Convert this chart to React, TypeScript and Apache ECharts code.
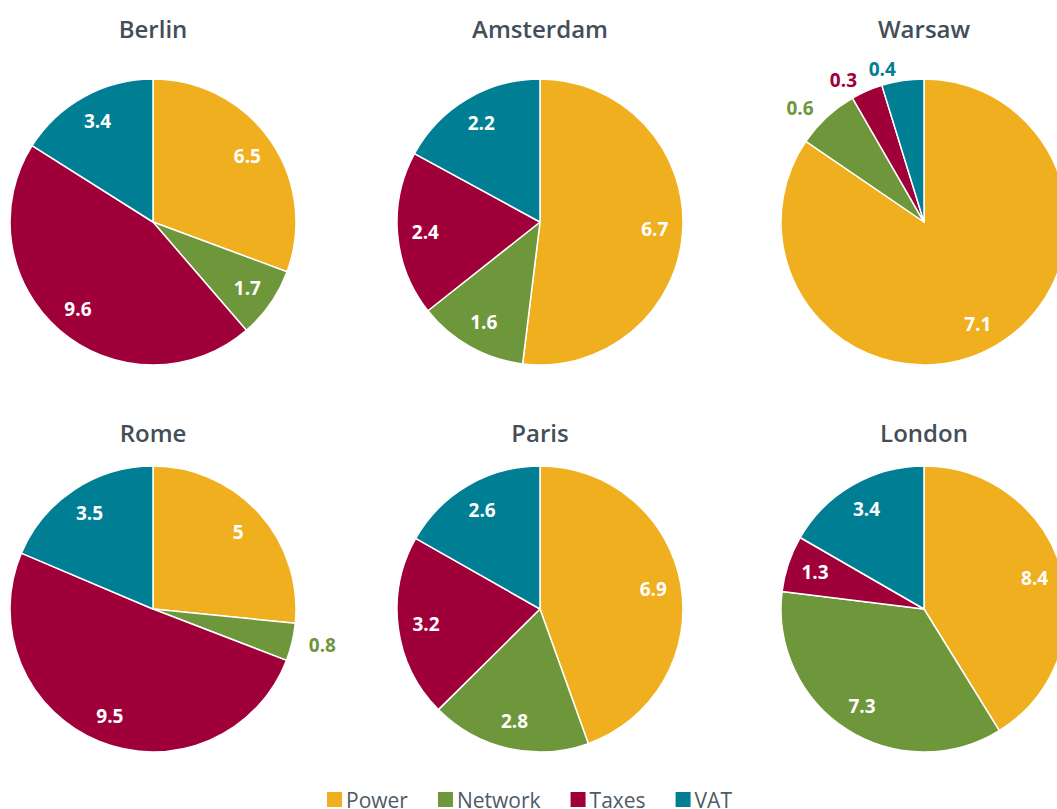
import React, { useEffect, useRef } from "react";
import * as echarts from "echarts";

const cities = ["Berlin", "Amsterdam", "Warsaw", "Rome", "Paris", "London"];
const categories = ["Power", "Network", "Taxes", "VAT"];
const power = [6.5, 6.7, 7.1, 5, 6.9, 8.4];
const network = [1.7, 1.6, 0.6, 0.8, 2.8, 7.3];
const taxes = [9.6, 2.4, 0.3, 9.5, 3.2, 1.3];
const vat = [3.4, 2.2, 0.4, 3.5, 2.6, 3.4];
// slices whose value label sits outside the pie
const outsideLabels: Record<string, string[]> = {
  Warsaw: ["Network", "Taxes", "VAT"],
  Rome: ["Network"],
};

const colors = ["#EFAF1F", "#6E963A", "#A0003A", "#007E94"];
const colX = [153, 540, 924];
const rowY = [222, 609];
const titleY = [28, 432];
const R = 143;
const FONT = "'Open Sans', 'Noto Sans', sans-serif";

export default function App() {
  const ref = useRef<HTMLDivElement>(null);
  useEffect(() => {
    if (!ref.current) return;
    const chart = echarts.init(ref.current, null, { renderer: "svg" });
    const series: any[] = [];
    const graphic: any[] = [];
    cities.forEach((city, i) => {
      const row = Math.floor(i / 3);
      const cx = colX[i % 3];
      const cy = rowY[row];
      const vals = [power[i], network[i], taxes[i], vat[i]];
      const outs = outsideLabels[city] || [];
      series.push({
        type: "pie",
        name: city,
        center: [cx, cy],
        radius: [0, R],
        startAngle: 90,
        clockwise: true,
        silent: true,
        avoidLabelOverlap: false,
        labelLine: { show: false, length: 12, length2: 0 },
        label: {
          show: false,
          position: "outside",
          fontSize: 19,
          fontWeight: "bold",
          fontFamily: FONT,
          formatter: (p: any) => String(p.value),
        },
        itemStyle: { borderColor: "#ffffff", borderWidth: 1.5 },
        data: categories.map((c, k) => ({
          name: c,
          value: vals[k],
          itemStyle: { color: colors[k] },
          label: { show: outs.includes(c), color: colors[k] },
          labelLine: { show: false },
        })),
      });
      // inner labels
      series.push({
        type: "pie",
        name: city + " labels",
        center: [cx, cy],
        radius: [82, 142],
        startAngle: 90,
        clockwise: true,
        silent: true,
        labelLine: { show: false },
        itemStyle: { color: "rgba(0,0,0,0)", borderWidth: 0 },
        label: {
          show: true,
          position: "inside",
          color: "#ffffff",
          fontSize: 19,
          fontWeight: "bold",
          fontFamily: FONT,
          formatter: (p: any) => String(p.value),
        },
        data: categories.map((c, k) => ({
          name: c,
          value: vals[k],
          label: { show: !outs.includes(c) },
        })),
      });
      graphic.push({
        type: "text",
        x: cx,
        y: titleY[row],
        style: {
          text: city,
          fill: "#434e58",
          font: `600 24px ${FONT}`,
          textAlign: "center",
          textVerticalAlign: "middle",
        },
      });
    });
    chart.setOption({
      animation: false,
      color: colors,
      graphic,
      legend: {
        top: 784,
        left: "center",
        icon: "rect",
        itemWidth: 17,
        itemHeight: 17,
        itemGap: 28,
        selectedMode: false,
        textStyle: { fontSize: 21, color: "#4d5b66", fontFamily: FONT, padding: [0, 0, 0, -2] },
        data: categories.map((c, k) => ({ name: c, itemStyle: { color: colors[k] } })),
      },
      series,
    });
    return () => chart.dispose();
  }, []);
  return (
    <div
      ref={ref}
      style={{ position: "fixed", left: 0, top: 0, width: 1057, height: 809, background: "#ffffff" }}
    />
  );
}
